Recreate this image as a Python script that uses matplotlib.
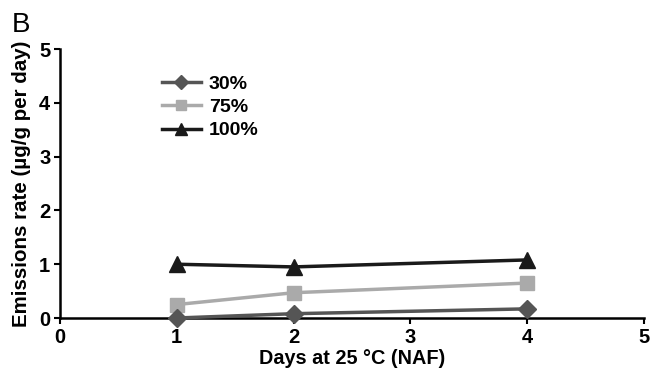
import matplotlib.pyplot as plt

plt.rcParams["font.family"] = ["Liberation Sans", "DejaVu Sans"]
plt.rcParams["font.weight"] = "bold"

# emission rates by moisture level
days = [1, 2, 4]
rate_30 = [0.0, 0.08, 0.17]
rate_75 = [0.25, 0.47, 0.65]
rate_100 = [1.0, 0.95, 1.08]

fig = plt.figure(figsize=(6.57, 3.75), dpi=100)
ax = fig.add_axes([0.0913, 0.152, 0.889, 0.717])

ax.plot(days, rate_30, color="#555555", marker="D", markersize=9, lw=2.5, label="30%", clip_on=False, zorder=3)
ax.plot(days, rate_75, color="#aaaaaa", marker="s", markersize=10, lw=2.5, label="75%", clip_on=False, zorder=2)
ax.plot(days, rate_100, color="#1a1a1a", marker="^", markersize=11, lw=2.5, label="100%", clip_on=False, zorder=2)

ax.set_xlim(0, 5)
ax.set_ylim(0, 5)
ax.set_xticks(range(6))
ax.set_yticks(range(6))
ax.spines["top"].set_visible(False)
ax.spines["right"].set_visible(False)
ax.spines["left"].set_linewidth(1.8)
ax.spines["bottom"].set_linewidth(1.8)
ax.tick_params(width=1.5, length=4, labelsize=14.5, pad=3)
for t in ax.get_xticklabels() + ax.get_yticklabels():
    t.set_fontweight("bold")

ax.set_xlabel("Days at 25 °C (NAF)", fontsize=14.3, fontweight="bold", labelpad=2)
ax.set_ylabel("Emissions rate (µg/g per day)", fontsize=14.8, fontweight="bold", labelpad=6)

leg = ax.legend(loc="upper left", bbox_to_anchor=(0.158, 0.94), frameon=False,
                fontsize=14, handlelength=2.0, handletextpad=0.4, labelspacing=0.3,
                markerscale=0.75, borderpad=0)
for t in leg.get_texts():
    t.set_fontweight("bold")

fig.text(0.018, 0.915, "B", fontsize=20, fontweight="normal")

fig.savefig("out.png", dpi=100)
